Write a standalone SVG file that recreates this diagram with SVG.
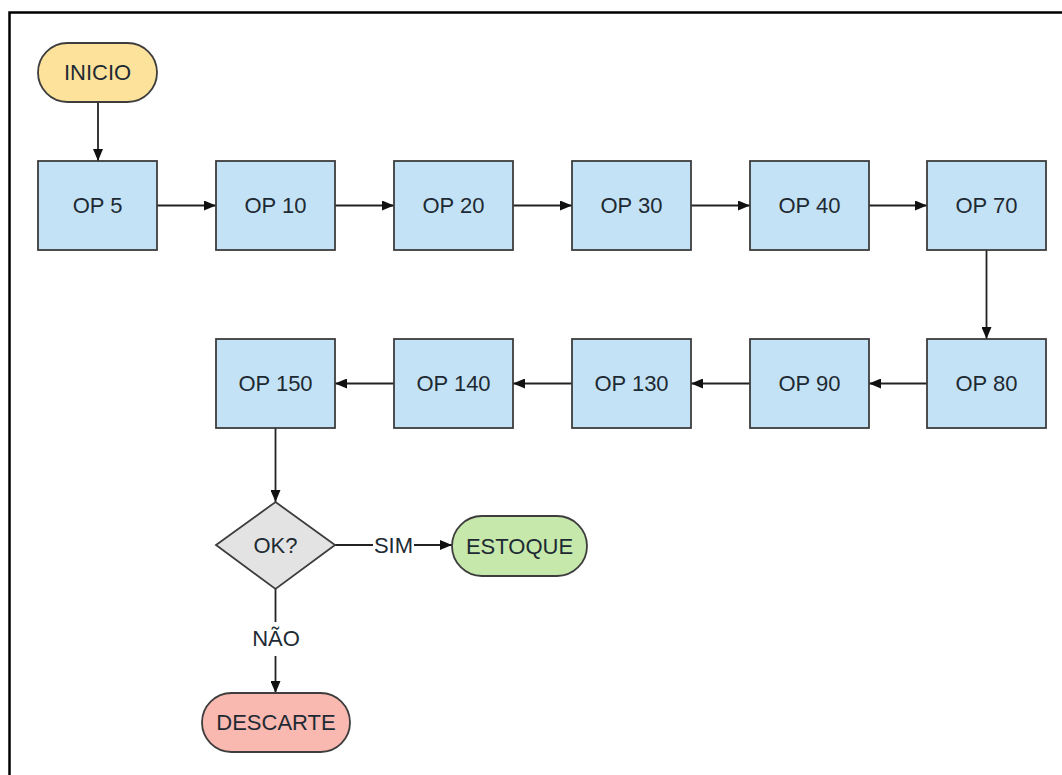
<svg xmlns="http://www.w3.org/2000/svg" width="1062" height="775" viewBox="0 0 1062 775">
<defs>
<marker id="arr" viewBox="0 0 12 10" refX="12" refY="5" markerWidth="13" markerHeight="10" markerUnits="userSpaceOnUse" orient="auto">
<path d="M0,0 L12,5 L0,10 z" fill="#111"/>
</marker>
<style>
.box{fill:#c4e2f5;stroke:#3d3d3d;stroke-width:1.8}
.t{font-family:"Liberation Sans",Arial,sans-serif;font-size:22px;fill:#1e2a33;text-anchor:middle;dominant-baseline:central}
.c{stroke:#222;stroke-width:1.8;fill:none;marker-end:url(#arr)}
.l{stroke:#222;stroke-width:1.8;fill:none}
</style>
</defs>
<rect width="1062" height="775" fill="#fff"/>
<path d="M9.5,775 L9.5,12.5 L1062,12.5" fill="none" stroke="#000" stroke-width="2.5"/>
<g id="connectors">
<line class="c" x1="98" y1="102" x2="98" y2="161"/>
<line class="c" x1="157" y1="205.5" x2="216" y2="205.5"/>
<line class="c" x1="335" y1="205.5" x2="394" y2="205.5"/>
<line class="c" x1="513" y1="205.5" x2="572" y2="205.5"/>
<line class="c" x1="691" y1="205.5" x2="750" y2="205.5"/>
<line class="c" x1="869" y1="205.5" x2="927" y2="205.5"/>
<line class="c" x1="986.5" y1="250" x2="986.5" y2="339"/>
<line class="c" x1="927" y1="383.5" x2="869" y2="383.5"/>
<line class="c" x1="750" y1="383.5" x2="691" y2="383.5"/>
<line class="c" x1="572" y1="383.5" x2="513" y2="383.5"/>
<line class="c" x1="394" y1="383.5" x2="335" y2="383.5"/>
<line class="c" x1="275.5" y1="428" x2="275.5" y2="502"/>
<line class="l" x1="335" y1="545" x2="373" y2="545"/>
<line class="c" x1="414" y1="545" x2="452" y2="545"/>
<text class="t" x="393.5" y="545">SIM</text>
<line class="l" x1="275.5" y1="589" x2="275.5" y2="622"/>
<line class="c" x1="275.5" y1="656" x2="275.5" y2="693"/>
<text class="t" x="276" y="638">NÃO</text>
</g>
<g id="inicio"><rect x="38" y="43" width="119" height="59" rx="29.5" fill="#fde29b" stroke="#3d3d3d" stroke-width="1.8"/><text class="t" x="97.5" y="72.5">INICIO</text></g>
<g id="op5"><rect class="box" x="38" y="161" width="119" height="89"/><text class="t" x="97.5" y="205.5">OP 5</text></g>
<g id="op10"><rect class="box" x="216" y="161" width="119" height="89"/><text class="t" x="275.5" y="205.5">OP 10</text></g>
<g id="op20"><rect class="box" x="394" y="161" width="119" height="89"/><text class="t" x="453.5" y="205.5">OP 20</text></g>
<g id="op30"><rect class="box" x="572" y="161" width="119" height="89"/><text class="t" x="631.5" y="205.5">OP 30</text></g>
<g id="op40"><rect class="box" x="750" y="161" width="119" height="89"/><text class="t" x="809.5" y="205.5">OP 40</text></g>
<g id="op70"><rect class="box" x="927" y="161" width="119" height="89"/><text class="t" x="986.5" y="205.5">OP 70</text></g>
<g id="op80"><rect class="box" x="927" y="339" width="119" height="89"/><text class="t" x="986.5" y="383.5">OP 80</text></g>
<g id="op90"><rect class="box" x="750" y="339" width="119" height="89"/><text class="t" x="809.5" y="383.5">OP 90</text></g>
<g id="op130"><rect class="box" x="572" y="339" width="119" height="89"/><text class="t" x="631.5" y="383.5">OP 130</text></g>
<g id="op140"><rect class="box" x="394" y="339" width="119" height="89"/><text class="t" x="453.5" y="383.5">OP 140</text></g>
<g id="op150"><rect class="box" x="216" y="339" width="119" height="89"/><text class="t" x="275.5" y="383.5">OP 150</text></g>
<g id="ok"><polygon points="275.5,502 335,545 275.5,589 216,545" fill="#e3e3e3" stroke="#3d3d3d" stroke-width="1.8"/><text class="t" x="275.5" y="545">OK?</text></g>
<g id="estoque"><rect x="452" y="516" width="135" height="60" rx="30" fill="#c6e8ab" stroke="#3d3d3d" stroke-width="1.8"/><text class="t" x="519.5" y="546">ESTOQUE</text></g>
<g id="descarte"><rect x="202" y="693" width="148" height="59" rx="29.5" fill="#f9b8b0" stroke="#3d3d3d" stroke-width="1.8"/><text class="t" x="276" y="722.5">DESCARTE</text></g>
</svg>
